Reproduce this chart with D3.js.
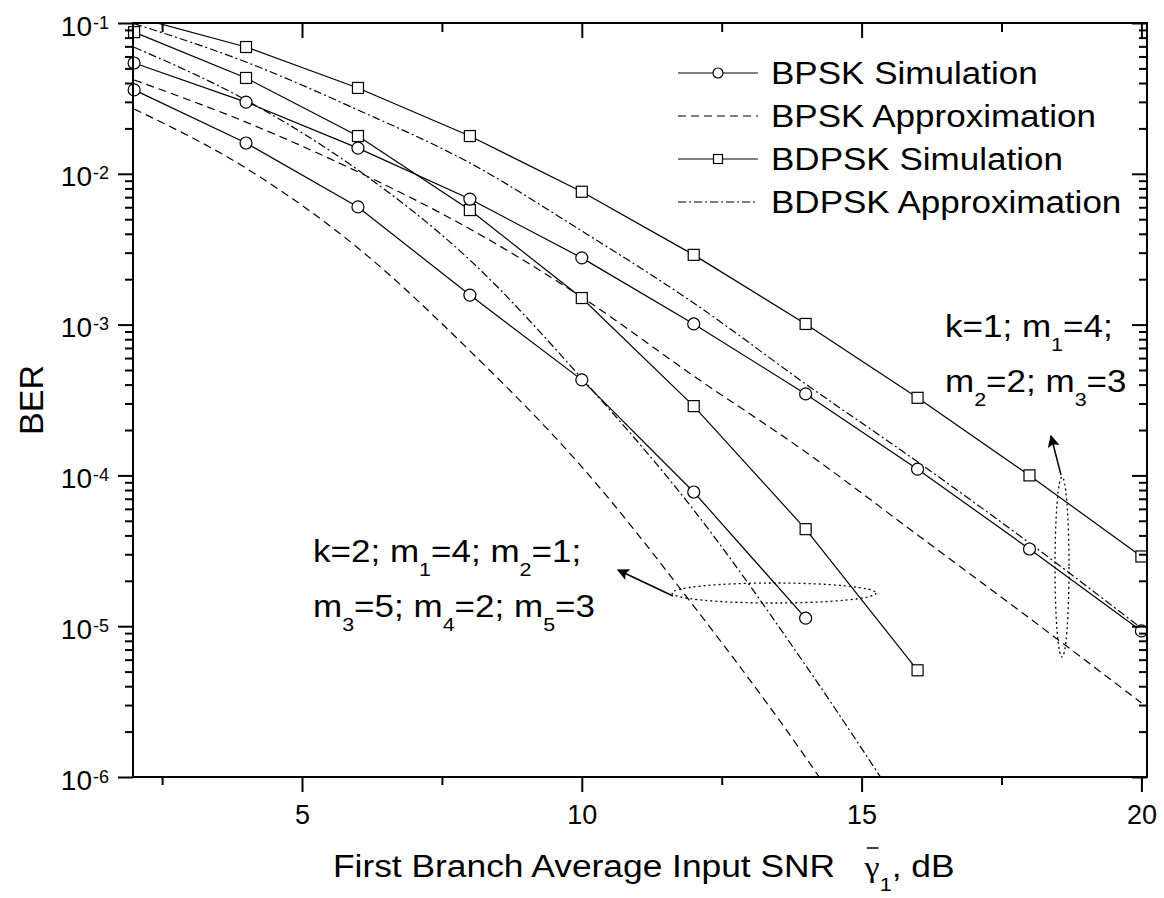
<!DOCTYPE html>
<html><head><meta charset="utf-8">
<script src="https://cdn.jsdelivr.net/npm/d3@7"></script>
<style>
body{margin:0;background:#fff}
text{font-family:"Liberation Sans",Arial,sans-serif;fill:#000}
</style>
</head><body><svg id="c" width="1164" height="898"></svg>
<script>
// ---------------- data ----------------
const snr = [2,4,6,8,10,12,14,16,18,20];
const bpskSimK1   = [0.0543, 0.0299, 0.0148, 0.0068, 0.00277, 0.00101, 3.47e-4, 1.1e-4, 3.25e-5, 9.3e-6];
const bpskSimK2   = [0.036, 0.016, 0.00603, 0.00157, 4.3e-4, 7.76e-5, 1.13e-5];
const bdpskSimK1  = [0.11, 0.0693, 0.0371, 0.0178, 0.0076, 0.0029, 0.00101, 3.27e-4, 1.0e-4, 2.9e-5];
const bdpskSimK2  = [0.087, 0.0432, 0.0178, 0.00575, 0.0015, 2.88e-4, 4.4e-5, 5.1e-6];
const bpskApxK1   = [0.0419, 0.022, 0.0103, 0.00431, 0.00152, 4.56e-4, 1.43e-4, 4.03e-5, 1.13e-5, 3.1e-6];
const bpskApxK2   = [0.0269, 0.0109, 0.00322, 6.7e-4, 1.14e-4, 1.36e-5, 1.35e-6, 1.0e-7];
const bdpskApxK1  = [0.099, 0.0551, 0.0265, 0.0118, 0.00418, 0.00139, 4.04e-4, 1.23e-4, 3.56e-5, 9.7e-6];
const bdpskApxK2  = [0.069, 0.0308, 0.0106, 0.00268, 4.4e-4, 5.9e-5, 5.5e-6, 4.2e-7];

const xMajorTicks = [5,10,15,20];
const xMinorTicks = [2.5,7.5,12.5,17.5];
const yExponents  = [-6,-5,-4,-3,-2,-1];
const legendLabels = ["BPSK Simulation","BPSK Approximation","BDPSK Simulation","BDPSK Approximation"];
const xTitle = "First Branch Average Input SNR";
const yTitle = "BER";

// ---------------- layout ----------------
const M = {left:133, right:1147, top:23, bottom:777};
const SX = 1.13;
const svg = d3.select("#c");
const x = d3.scaleLinear().domain([1.98,20.1]).range([M.left,M.right]);
const y = d3.scaleLog().domain([1e-6,1e-1]).range([M.bottom,M.top]);

const DASH = "8,5", DASHDOT = "8,3,2,3";

const defs = svg.append("defs");
defs.append("clipPath").attr("id","clip")
  .append("rect").attr("x",M.left).attr("y",M.top).attr("width",M.right-M.left).attr("height",M.bottom-M.top);
defs.append("marker").attr("id","arr").attr("viewBox","0 0 10 10").attr("refX",9).attr("refY",5)
  .attr("markerWidth",16).attr("markerHeight",12).attr("markerUnits","userSpaceOnUse").attr("orient","auto")
  .append("path").attr("d","M0,0 L10,5 L0,10 L2,5 Z").attr("fill","#000");

const series = [
  {vals:bpskApxK1, dash:DASH},
  {vals:bpskApxK2, dash:DASH},
  {vals:bdpskApxK1, dash:DASHDOT},
  {vals:bdpskApxK2, dash:DASHDOT},
  {vals:bdpskSimK1, dash:null, mk:"sq"},
  {vals:bdpskSimK2, dash:null, mk:"sq"},
  {vals:bpskSimK1, dash:null, mk:"ci"},
  {vals:bpskSimK2, dash:null, mk:"ci"},
];

const plot = svg.append("g").attr("clip-path","url(#clip)");
series.forEach(s=>{
  const pts = s.vals.map((v,i)=>[snr[i],v]);
  const line = d3.line().x(d=>x(d[0])).y(d=>y(d[1]))
    .curve(s.mk ? d3.curveLinear : d3.curveMonotoneX);
  plot.append("path").attr("d",line(pts)).attr("fill","none").attr("stroke","#000")
    .attr("stroke-width",1.2).attr("stroke-dasharray",s.dash);
});
const mk = svg.append("g");
series.filter(s=>s.mk).forEach(s=>{
  s.vals.forEach((v,i)=>{
    if (v>1e-1 || v<1e-6) return;
    const cx=x(snr[i]), cy=y(v);
    if (s.mk==="ci") mk.append("circle").attr("cx",cx).attr("cy",cy).attr("r",6)
      .attr("fill","#fff").attr("stroke","#000").attr("stroke-width",1.2);
    else mk.append("rect").attr("x",cx-5.5).attr("y",cy-5.5).attr("width",11).attr("height",11)
      .attr("fill","#fff").attr("stroke","#000").attr("stroke-width",1.2);
  });
});

// ---------------- axes ----------------
const yMajor = yExponents.map(e=>Math.pow(10,e));
const yMinor = [];
yExponents.slice(0,-1).forEach(e=>{ for(let k=2;k<=9;k++) yMinor.push(k*Math.pow(10,e)); });

function styleAxis(g){
  g.select(".domain").remove();
  g.selectAll(".tick line").attr("stroke","#000").attr("stroke-width",2);
}
svg.append("g").attr("transform",`translate(0,${M.bottom})`)
  .call(d3.axisBottom(x).tickValues(xMajorTicks).tickSize(15).tickPadding(13).tickFormat(d3.format("d")))
  .call(styleAxis)
  .call(g=>g.selectAll("text").attr("font-size",27).attr("font-family","Liberation Sans, Arial, sans-serif"));
svg.append("g").attr("transform",`translate(0,${M.bottom})`)
  .call(d3.axisBottom(x).tickValues(xMinorTicks).tickSize(8).tickFormat("")).call(styleAxis);
svg.append("g").attr("transform",`translate(0,${M.top})`)
  .call(d3.axisTop(x).tickValues(xMajorTicks).tickSize(-15).tickFormat("")).call(styleAxis);
svg.append("g").attr("transform",`translate(0,${M.top})`)
  .call(d3.axisTop(x).tickValues(xMinorTicks).tickSize(-9).tickFormat("")).call(styleAxis);

const yl = svg.append("g").attr("transform",`translate(${M.left},0)`)
  .call(d3.axisLeft(y).tickValues(yMajor).tickSize(15).tickFormat("")).call(styleAxis);
svg.append("g").attr("transform",`translate(${M.left},0)`)
  .call(d3.axisLeft(y).tickValues(yMinor).tickSize(8).tickFormat("")).call(styleAxis);
svg.append("g").attr("transform",`translate(${M.right},0)`)
  .call(d3.axisRight(y).tickValues(yMajor).tickSize(-15).tickFormat("")).call(styleAxis);
svg.append("g").attr("transform",`translate(${M.right},0)`)
  .call(d3.axisRight(y).tickValues(yMinor).tickSize(-8).tickFormat("")).call(styleAxis);

yl.selectAll(".tick").each(function(d){
  const g = d3.select(this);
  g.select("text").remove();
  g.append("text").attr("x",-41).attr("y",12).attr("text-anchor","end")
    .attr("font-size",28).text("10");
  g.append("text").attr("x",-40).attr("y",5).attr("text-anchor","start").attr("font-size",18)
    .text(String(Math.round(Math.log10(d))));
});

svg.append("rect").attr("x",M.left).attr("y",M.top).attr("width",M.right-M.left)
  .attr("height",M.bottom-M.top).attr("fill","none").attr("stroke","#000").attr("stroke-width",2);

// ---------------- text helpers ----------------
function richText(x0,y0,parts,size,anchor,sx){
  const g = svg.append("g").attr("transform",`translate(${x0},${y0}) scale(${sx||SX},1)`);
  const t = g.append("text").attr("font-size",size).attr("text-anchor",anchor||"start");
  let shift=0;
  parts.forEach(p=>{
    const [str,sub,fam,fs] = p;
    const ts = t.append("tspan").text(str);
    const target = sub ? 14 : 0;
    if (target!==shift){ ts.attr("dy",target-shift); shift=target; }
    if (sub) ts.attr("font-size",19);
    if (fam) ts.attr("font-family",fam);
    if (fs) ts.attr("font-size",fs);
  });
  return {g,t};
}

// legend
const legY = [73,116,159,202];
legendLabels.forEach((lab,i)=>{
  const s = [series[6],series[0],series[4],series[2]][i];
  svg.append("line").attr("x1",678).attr("x2",758).attr("y1",legY[i]).attr("y2",legY[i])
    .attr("stroke","#000").attr("stroke-width",1.2).attr("stroke-dasharray",s.dash);
  if (s.mk==="ci") svg.append("circle").attr("cx",718).attr("cy",legY[i]).attr("r",5)
      .attr("fill","#fff").attr("stroke","#000").attr("stroke-width",1.2);
  if (s.mk==="sq") svg.append("rect").attr("x",713.5).attr("y",legY[i]-4.5).attr("width",9).attr("height",9)
      .attr("fill","#fff").attr("stroke","#000").attr("stroke-width",1.2);
  richText(771,legY[i]+11,[[lab,0]],31);
});

// annotations
richText(945,337,[["k=1; m",0],["1",1],["=4;",0]],31);
richText(945,392,[["m",0],["2",1],["=2; m",0],["3",1],["=3",0]],31);
richText(313,562,[["k=2; m",0],["1",1],["=4; m",0],["2",1],["=1;",0]],31);
richText(313,617,[["m",0],["3",1],["=5; m",0],["4",1],["=2; m",0],["5",1],["=3",0]],31);

// ellipses + arrows
svg.append("ellipse").attr("cx",774).attr("cy",593).attr("rx",102).attr("ry",10)
  .attr("fill","none").attr("stroke","#000").attr("stroke-width",1.3).attr("stroke-dasharray","2,3");
svg.append("line").attr("x1",673).attr("y1",596).attr("x2",618).attr("y2",570)
  .attr("stroke","#000").attr("stroke-width",1.5).attr("marker-end","url(#arr)");
svg.append("ellipse").attr("cx",1062).attr("cy",567).attr("rx",7).attr("ry",90)
  .attr("fill","none").attr("stroke","#000").attr("stroke-width",1.3).attr("stroke-dasharray","2,3");
svg.append("line").attr("x1",1061).attr("y1",475).attr("x2",1051).attr("y2",436)
  .attr("stroke","#000").attr("stroke-width",1.5).attr("marker-end","url(#arr)");

// axis titles
const xt = richText(333,877,[[xTitle+"\u00a0\u00a0\u00a0",0],["\u03b3",0,"Liberation Serif",30],["1",1],[", dB",0]],31,"start",1.14);
(function(){
  const node = xt.t.node();
  const idx = xTitle.length+3;
  const s = node.getStartPositionOfChar(idx), e = node.getEndPositionOfChar(idx);
  xt.g.append("line").attr("x1",s.x+2).attr("x2",e.x-1).attr("y1",-29).attr("y2",-29)
    .attr("stroke","#000").attr("stroke-width",1.5);
})();
svg.append("text").attr("transform","translate(43,400) rotate(-90)").attr("text-anchor","middle")
  .attr("font-size",34).text(yTitle);
</script></body></html>
